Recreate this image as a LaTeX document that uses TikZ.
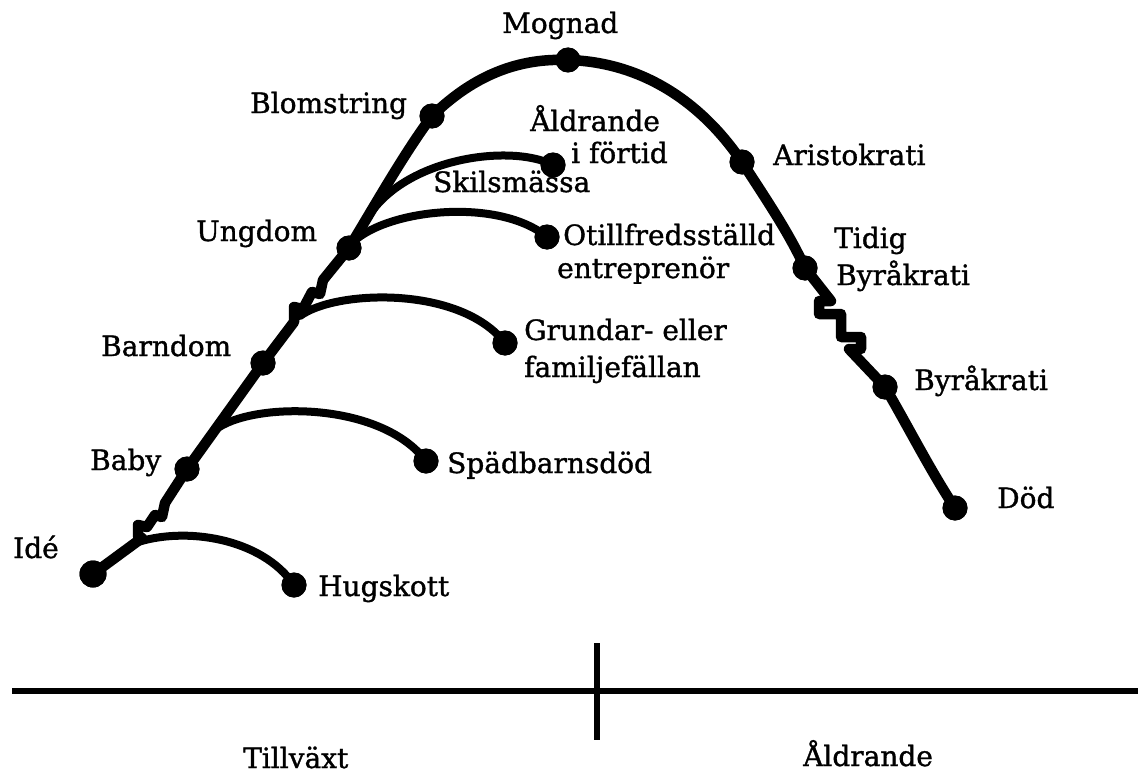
\documentclass[tikz,border=0pt]{standalone}
\usepackage{fontspec}
\setmainfont{DejaVu Serif}[BoldFont={DejaVu Serif}, BoldFeatures={FakeBold=1.2}]
\begin{document}
\begin{tikzpicture}[x=1pt,y=-1pt,
  mainline/.style={line width=10.5pt, line join=round, line cap=round},
  branch/.style={line width=8pt, line cap=round},
  axis/.style={line width=6.5pt},
  dot/.style={circle, fill=black, inner sep=0pt, minimum size=25pt},
  lbl/.style={anchor=base west, inner sep=0pt, font=\fontsize{28}{30}\selectfont\bfseries}]
\useasboundingbox (0,0) rectangle (1138,776);

% stage points along the life curve
\node[dot, minimum size=27pt] (idea) at (93,574) {};
\node[dot] (baby)   at (187,469) {};
\node[dot] (child)  at (263,363) {};
\node[dot] (youth)  at (349,248) {};
\node[dot] (bloom)  at (432,116) {};
\node[dot] (prime)  at (568,60) {};
\node[dot] (arist)  at (742,162) {};
\node[dot] (earlyb) at (805,268) {};
\node[dot] (bureau) at (885,387) {};
\node[dot] (death)  at (955,508) {};

% end points of the failure branches
\node[dot] (whim)    at (294,585) {};
\node[dot] (infant)  at (426,461) {};
\node[dot] (founder) at (505,343) {};
\node[dot] (unfulf)  at (547,237) {};
\node[dot] (premat)  at (553,165) {};

% where the branches leave the main curve
\coordinate (b1) at (135,543);
\coordinate (b2) at (215,430);
\coordinate (b3) at (300,316);
\coordinate (b4) at (353,242);
\coordinate (b5) at (365,222);

% main curve with its crisis steps
\draw[mainline] (idea.center) -- (142,538) -- (138,536) -- (138,525) -- (147,527)
  -- (155,515) -- (162,517) -- (165,503) -- (baby.center) -- (child.center)
  -- (294,322) -- (294,307) -- (303,309) -- (312,292) -- (320,294) -- (323,280)
  -- (youth.center)
  .. controls (375,205) and (405,152) .. (bloom.center)
  .. controls (475,74) and (520,58) .. (prime.center)
  .. controls (640,62) and (700,100) .. (arist.center)
  .. controls (770,205) and (790,235) .. (earlyb.center)
  -- (831,301) -- (819,301) -- (819,314) -- (841,314) -- (841,337)
  -- (861,337) -- (861,349) -- (849,349) -- (bureau.center)
  .. controls (910,430) and (930,470) .. (death.center);

% branches
\draw[branch] (b1) .. controls (185,526) and (262,538) .. (whim.center);
\draw[branch] (b2) .. controls (250,402) and (380,400) .. (infant.center);
\draw[branch] (b3) .. controls (335,290) and (460,285) .. (founder.center);
\draw[branch] (b4) .. controls (390,208) and (500,198) .. (unfulf.center);
\draw[branch] (b5) .. controls (400,158) and (510,143) .. (premat.center);

% dots drawn again on top of the lines
\foreach \n/\s in {idea/27,baby/25,child/25,youth/25,bloom/25,prime/25,arist/25,earlyb/25,bureau/25,death/25,whim/25,infant/25,founder/25,unfulf/25,premat/25}
  \fill[black] (\n.center) circle (\s/2);

% labels
\node[lbl] (l-prime)  at (502,33)  {Mognad};
\node[lbl] (l-bloom)  at (250,113) {Blomstring};
\node[lbl] (l-prem1)  at (530,131) {Åldrande};
\node[lbl] (l-prem2)  at (571,163) {i förtid};
\node[lbl] (l-div)    at (433,192) {Skilsmässa};
\node[lbl] (l-arist)  at (773,165) {Aristokrati};
\node[lbl] (l-youth)  at (196,241) {Ungdom};
\node[lbl] (l-unf1)   at (563,245) {Otillfredsställd};
\node[lbl] (l-unf2)   at (557,278) {entreprenör};
\node[lbl] (l-early1) at (834,248) {Tidig};
\node[lbl] (l-early2) at (836,285) {Byråkrati};
\node[lbl] (l-child)  at (101,356) {Barndom};
\node[lbl] (l-fnd1)   at (524,340) {Grundar- eller};
\node[lbl] (l-fnd2)   at (524,377) {familjefällan};
\node[lbl] (l-bureau) at (914,390) {Byråkrati};
\node[lbl] (l-baby)   at (90,470)  {Baby};
\node[lbl] (l-infant) at (447,473) {Spädbarnsdöd};
\node[lbl] (l-death)  at (997,508) {Död};
\node[lbl] (l-idea)   at (13,558)  {Idé};
\node[lbl] (l-whim)   at (318,596) {Hugskott};

% time axis
\coordinate (axL) at (12,691);
\coordinate (axR) at (1138,691);
\coordinate (tkT) at (597,643);
\coordinate (tkB) at (597,740);
\draw[axis] (axL) -- (axR);
\draw[axis] (tkT) -- (tkB);
\node[lbl] (l-grow) at (243,768) {Tillväxt};
\node[lbl] (l-age)  at (803,766) {Åldrande};
\end{tikzpicture}
\end{document}
